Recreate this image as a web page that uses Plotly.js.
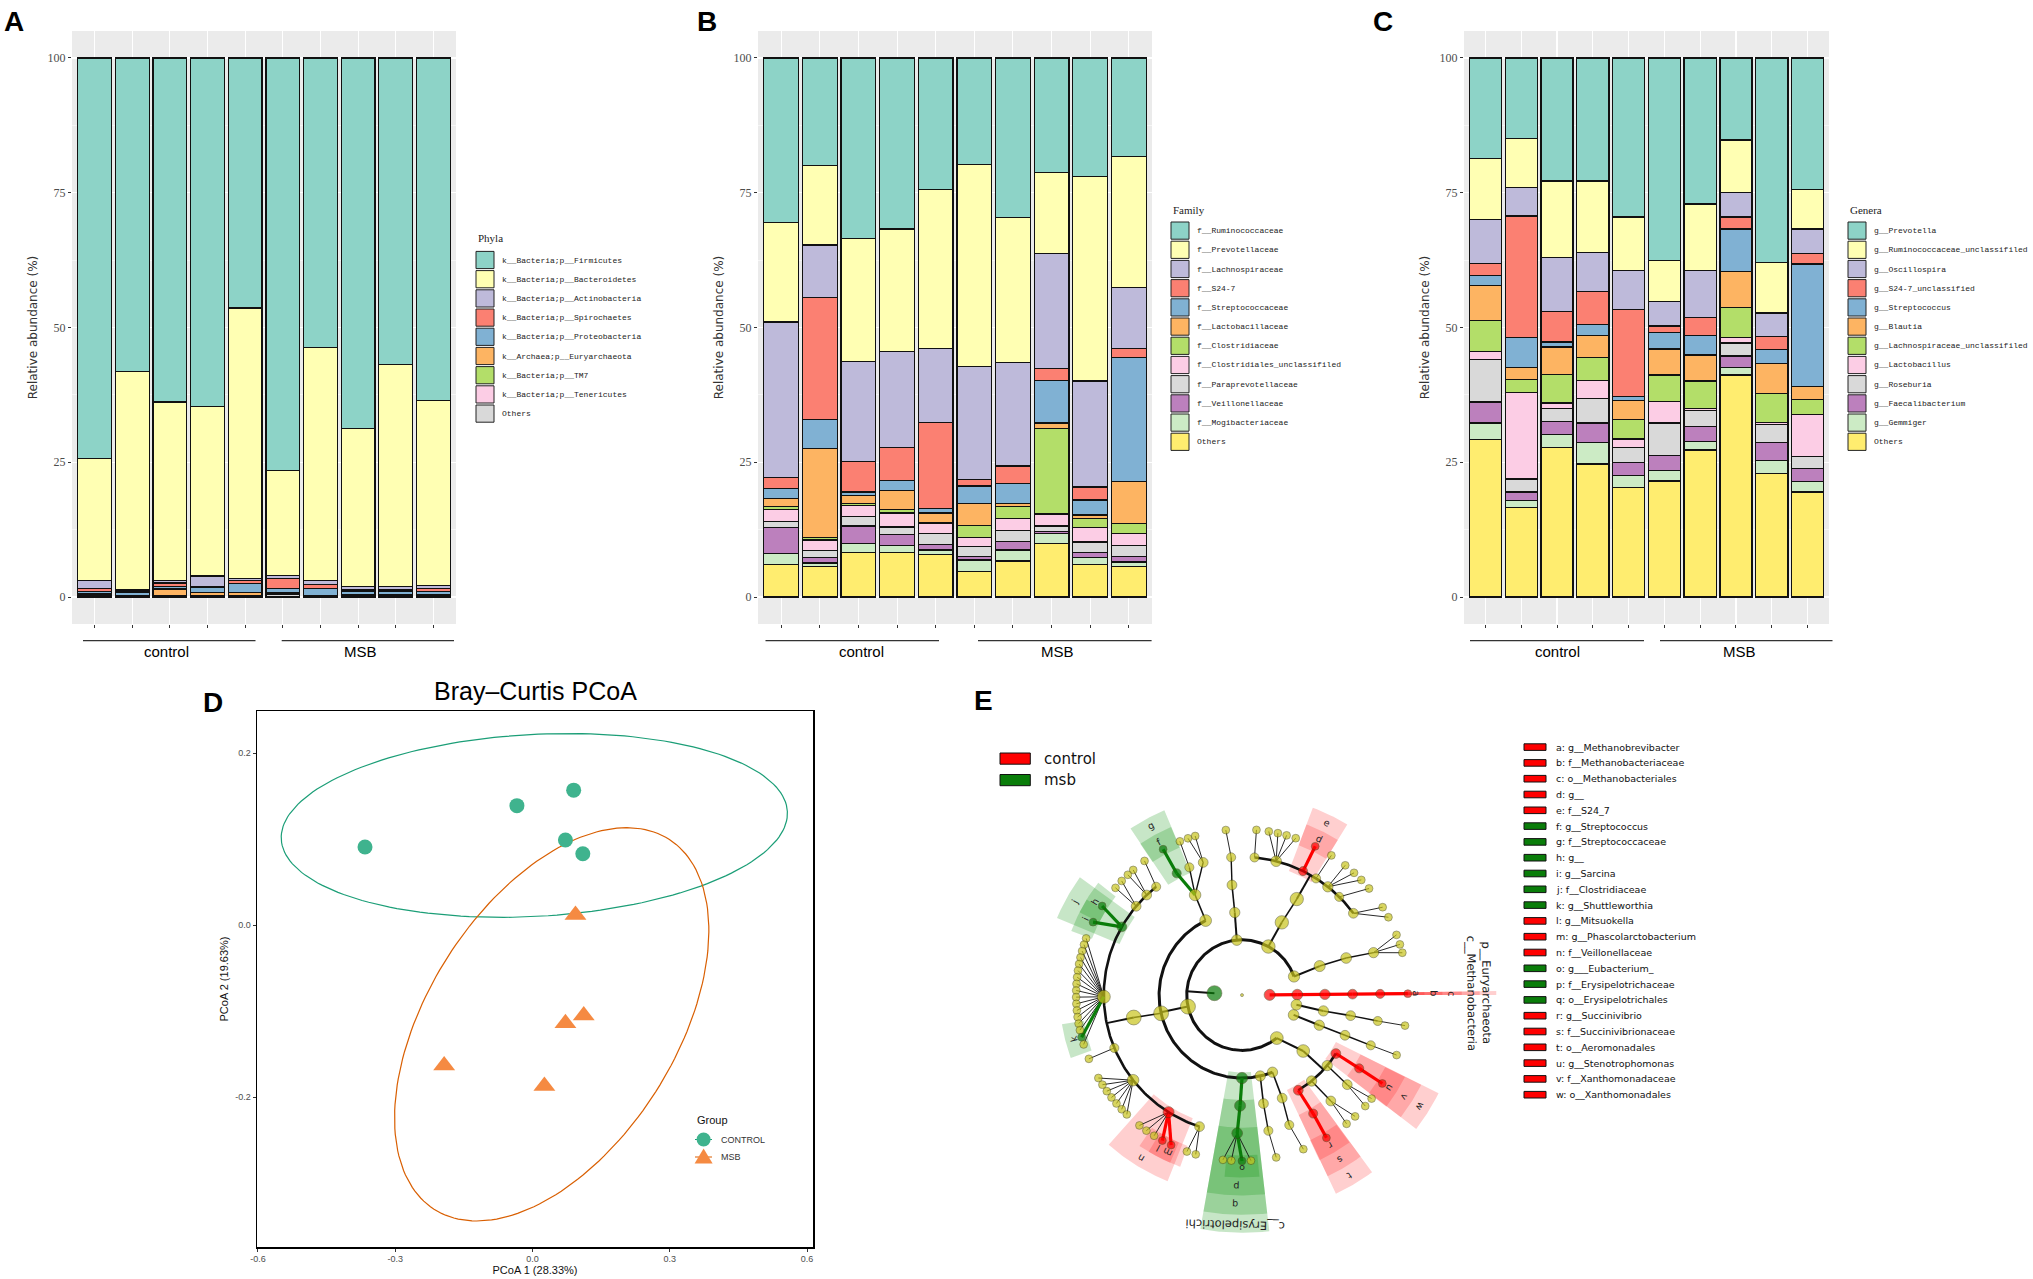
<!DOCTYPE html>
<html><head><meta charset="utf-8">
<script src="https://cdn.plot.ly/plotly-3.0.1.min.js"></script>
<style>html,body{margin:0;padding:0;background:#fff;}</style>
</head><body>
<div id="chart" style="width:2033px;height:1279px;"></div>
<script>
// ===================== DATA =====================
const samples = ['control-1','control-2','control-3','control-4','control-5','MSB-1','MSB-2','MSB-3','MSB-4','MSB-5'];
const groupNames = ['control','MSB'];
const pctTicks = [0,25,50,75,100];

// Panel A: phyla (legend order, top of stack first)
const phylaNames = ['k__Bacteria;p__Firmicutes','k__Bacteria;p__Bacteroidetes','k__Bacteria;p__Actinobacteria','k__Bacteria;p__Spirochaetes','k__Bacteria;p__Proteobacteria','k__Archaea;p__Euryarchaeota','k__Bacteria;p__TM7','k__Bacteria;p__Tenericutes','Others'];
const phyFirmicutes     = [74.3,58.2,63.8,64.6,46.4,76.5,53.7,68.7,56.9,63.6];
const phyBacteroidetes  = [22.6,40.5,33.1,31.5,50.1,19.5,43.2,29.4,41.2,34.3];
const phyActinobacteria = [1.5,0.3,0.5,1.9,0.4,0.5,0.8,0.5,0.5,0.5];
const phySpirochaetes   = [0.6,0.1,0.6,0.2,0.6,1.9,0.7,0.3,0.3,0.6];
const phyProteobacteria = [0.45,0.55,0.5,1.0,1.7,0.7,1.3,0.6,0.65,0.6];
const phyEuryarchaeota  = [0.1,0.05,1.25,0.5,0.45,0.2,0.05,0.05,0.05,0.05];
const phyTM7            = [0.05,0,0.05,0.05,0.05,0.1,0.05,0.05,0.05,0.05];
const phyTenericutes    = [0.1,0.1,0.05,0.05,0.1,0.1,0.05,0.1,0.05,0.1];
const phyOthers         = [0.3,0.2,0.15,0.2,0.2,0.5,0.15,0.3,0.3,0.2];

// Panel B: families
const familyNames = ['f__Ruminococcaceae','f__Prevotellaceae','f__Lachnospiraceae','f__S24-7','f__Streptococcaceae','f__Lactobacillaceae','f__Clostridiaceae','f__Clostridiales_unclassifiled','f__Paraprevotellaceae','f__Veillonellaceae','f__Mogibacteriaceae','Others'];
const famRuminococcaceae    = [30.5,19.9,33.5,31.7,24.4,19.8,29.6,21.2,22.0,18.3];
const famPrevotellaceae     = [18.5,14.8,22.8,22.7,29.5,37.4,26.9,15.1,37.9,24.3];
const famLachnospiraceae    = [28.8,9.7,18.6,17.9,13.7,21.0,19.2,21.3,19.7,11.3];
const famS247               = [2.0,22.6,5.6,6.1,16.0,1.2,3.3,2.2,2.4,1.7];
const famStreptococcaceae   = [1.9,5.5,0.7,1.8,0.8,3.2,3.6,7.9,2.8,23.0];
const famLactobacillaceae   = [1.5,16.4,1.4,3.6,1.8,4.1,0.6,1.0,0.6,7.8];
const famClostridiaceae     = [0.6,0.5,0.4,0.6,0.2,2.2,2.2,15.9,1.7,1.8];
const famClostridialesUnc   = [2.2,2.0,2.0,2.6,1.8,1.7,2.2,2.2,2.7,2.3];
const famParaprevotellaceae = [1.1,1.2,1.8,1.4,2.1,1.9,2.1,1.0,2.0,2.0];
const famVeillonellaceae    = [4.8,1.1,3.3,2.1,1.0,0.6,1.6,0.4,0.8,1.0];
const famMogibacteriaceae   = [2.0,0.6,1.7,1.3,0.8,2.1,2.0,1.9,1.3,0.8];
const famOthers             = [6.1,5.7,8.2,8.2,7.9,4.8,6.7,9.9,6.1,5.7];

// Panel C: genera
const genusNames = ['g__Prevotella','g__Ruminococcaceae_unclassifiled','g__Oscillospira','g__S24-7_unclassified','g__Streptococcus','g__Blautia','g__Lachnospiraceae_unclassifiled','g__Lactobacillus','g__Roseburia','g__Faecalibacterium','g__Gemmiger','Others'];
const genPrevotella         = [18.6,14.9,22.8,22.8,29.5,37.6,27.1,15.2,38.0,24.4];
const genRuminococcaceaeUnc = [11.4,9.1,14.2,13.3,9.9,7.6,12.3,9.8,9.3,7.3];
const genOscillospira       = [8.1,5.3,10.0,7.2,7.2,4.5,8.7,4.5,4.4,4.6];
const genS247Unc            = [2.3,22.6,5.7,6.2,16.2,1.2,3.4,2.2,2.4,1.9];
const genStreptococcus      = [1.8,5.5,0.9,2.0,0.8,3.1,3.6,7.9,2.6,22.8];
const genBlautia            = [6.5,2.2,5.1,4.1,3.4,4.8,4.8,6.7,5.5,2.4];
const genLachnospiraceaeUnc = [5.7,2.4,5.3,4.2,3.7,4.9,5.1,5.6,5.4,2.7];
const genLactobacillus      = [1.5,16.1,1.0,3.4,1.6,4.0,0.4,1.0,0.4,7.8];
const genRoseburia          = [7.9,2.4,2.4,4.5,2.8,6.0,3.0,2.4,3.3,2.3];
const genFaecalibacterium   = [3.9,1.6,2.5,3.6,2.4,2.8,2.7,2.1,3.4,2.4];
const genGemmiger           = [3.1,1.3,2.4,4.0,2.2,2.0,1.6,1.4,2.4,1.9];
const genOthers             = [29.2,16.6,27.7,24.7,20.3,21.5,27.3,41.2,22.9,19.5];

// Panel D: PCoA
const pcoaGroups = ['CONTROL','MSB'];
const ctrlPC1 = [-0.366,-0.034,0.090,0.072,0.110];
const ctrlPC2 = [0.091,0.139,0.157,0.099,0.083];
const msbPC1  = [0.094,0.112,0.072,-0.193,0.026];
const msbPC2  = [0.012,-0.105,-0.114,-0.163,-0.187];
// confidence ellipses: centre + two conjugate semi-axis vectors (PCoA units)
const ctrlEllipse = [0.004,0.116, 0.553,0.0162, 0.0109,-0.1056];
const msbEllipse  = [0.042,-0.1152, 0.1639,0.2286, 0.3018,0.0];

// Panel E: LEfSe cladogram  [parent, level, angle(deg)]
const cladeNodes = [
 [-1,0,0],[0,1,176],[0,1,0.5],[2,2,0.5],[3,3,0.5],[4,4,0.5],[5,5,0.5],[6,6,0.5],
 [1,2,19.7],[1,2,61.5],[1,2,95.4],[1,2,192],[1,2,309],[0,2,339],[0,2,350],
 [8,3,20.5],[15,4,19.6],[16,5,17.9],[17,6,21.3],[17,6,17.8],[17,6,14.8],
 [10,3,95],[21,4,95.2],[22,5,94.5],[23,6,95.6],
 [13,3,338.7],[25,4,338.7],[26,5,338.7],[27,6,338.8],
 [14,3,349],[29,4,349.3],[30,5,349.2],[31,6,349.4],
 [9,3,61.3],[33,4,60.3],[34,5,63.8],[34,5,75.7],[34,5,84.8],[34,5,57.6],[34,5,51.6],[34,5,45.3],[34,5,36.3],
 [35,6,63.8],[36,6,80.7],[36,6,77.5],[36,6,74.4],[36,6,71.1],[37,6,85],[38,6,57.4],[39,6,51.5],[39,6,47.5],[39,6,44],[40,6,40],[41,6,32],[41,6,28],
 [11,3,116],[11,3,192.7],[11,3,270],[11,3,282.7],[11,3,291.6],
 [55,4,115.1],[60,5,118.2],[60,5,112.4],[60,5,106.3],[61,6,118.4],[62,6,112],[63,6,106.4],[63,6,109],
 [56,4,191.7],
 [68,5,150.4],[68,5,140],[68,5,133.6],[68,5,128.4],[68,5,180.7],[68,5,202.5],[68,5,218],[68,5,237.9],[68,5,252.1],
 [69,6,147.5],[69,6,153.9],[70,6,139.7],[70,6,136.5],[71,6,131],[71,6,133.5],[72,6,126],
 [73,6,160],[73,6,162.3],[73,6,164.6],[73,6,166.9],[73,6,169.2],[73,6,171.5],[73,6,173.8],[73,6,176.1],[73,6,178.4],[73,6,180.7],[73,6,183],[73,6,185.3],[73,6,187.6],[73,6,189.9],[73,6,192.2],[73,6,194.7],[73,6,197.3],
 [74,6,202.6],
 [75,6,210],[75,6,212.7],[75,6,215.4],[75,6,218.1],[75,6,220.8],[75,6,223.5],[75,6,226],
 [76,6,231.8],[76,6,234.8],[76,6,238],[76,6,241.3],[76,6,244.7],
 [77,6,250.6],[77,6,253.8],
 [57,4,269],[117,5,268],[118,6,263.4],[118,6,266.3],[118,6,270],[118,6,273.1],
 [58,4,281.2],[123,5,281],[124,6,281.9],
 [59,4,291.3],[126,5,290],[127,6,291.7],
 [12,3,317.6],[129,4,328.1],[129,4,320.4],[129,4,309],[129,4,300.6],
 [130,5,328],[131,5,319.6],[133,5,301],[132,5,310],
 [134,6,327.8],[135,6,321.4],[135,6,318],[136,6,300.6],[137,6,309.1],[137,6,313]
];
const cladeGroups = ['control','msb'];
const markerLetters = ['a','b','c','d','e','f','g','h','i','j','k','l','m','n','o','p','q','r','s','t','u','v','w'];
const markerNames = ['g__Methanobrevibacter','f__Methanobacteriaceae','o__Methanobacteriales','g__','f__S24_7','g__Streptococcus','f__Streptococcaceae','g__','g__Sarcina','f__Clostridiaceae','g__Shuttleworthia','g__Mitsuokella','g__Phascolarctobacterium','f__Veillonellaceae','g___Eubacterium_','f__Erysipelotrichaceae','o__Erysipelotrichales','g__Succinivibrio','f__Succinivibrionaceae','o__Aeromonadales','g__Stenotrophomonas','f__Xanthomonadaceae','o__Xanthomonadales'];
const markerGroup = ['control','control','control','control','control','msb','msb','msb','msb','msb','msb','control','control','control','msb','msb','msb','control','control','control','control','control','control'];
const markerNode = [7,6,5,42,35,64,61,78,79,69,100,113,114,76,121,118,117,141,136,133,138,134,130];
const namedLabels = ['p__Euryarchaeota','c__Methanobacteria','c__Erysipelotrichi'];
const namedNode = [3,4,57];
const namedGroup = ['control','control','msb'];
const kingdomNode = [1,2];
const kingdomGroup = ['msb','control'];

// ===================== BUILD =====================
const W = 2033, H = 1279;
const px = x => x / W, py = y => 1 - y / H;
const set3 = ['#8DD3C7','#FFFFB3','#BEBADA','#FB8072','#80B1D3','#FDB462','#B3DE69','#FCCDE5','#D9D9D9','#BC80BD','#CCEBC5','#FFED6F'];
const xs = samples.map((s, i) => i + 1);
const traces = [];
const shapes = [];
const annotations = [];
const layout = {
  width: W, height: H, margin: {l:0, r:0, t:0, b:0},
  paper_bgcolor: '#ffffff', plot_bgcolor: 'rgba(0,0,0,0)',
  showlegend: false, barmode: 'stack', font: {family: 'Liberation Sans', color: '#000'},
  shapes: shapes, annotations: annotations
};
function txt(x, y, text, size, opts) {
  annotations.push(Object.assign({xref:'paper', yref:'paper', x: px(x), y: py(y), text: text, showarrow: false,
    xanchor: 'center', yanchor: 'middle', font: {family: 'Liberation Sans', size: size, color: '#000'}}, opts || {}));
}

const barPanels = [
  {names: phylaNames, table: [phyFirmicutes,phyBacteroidetes,phyActinobacteria,phySpirochaetes,phyProteobacteria,phyEuryarchaeota,phyTM7,phyTenericutes,phyOthers],
   title: 'Phyla', ax: '', x0: 72, x1: 456, legX: 476, legY: 260, titleY: 238, letter: 'A', letterX: 14,
   ctrl: [83,255.5,166], msb: [281.7,454,360]},
  {names: familyNames, table: [famRuminococcaceae,famPrevotellaceae,famLachnospiraceae,famS247,famStreptococcaceae,famLactobacillaceae,famClostridiaceae,famClostridialesUnc,famParaprevotellaceae,famVeillonellaceae,famMogibacteriaceae,famOthers],
   title: 'Family', ax: '2', x0: 758, x1: 1152, legX: 1171, legY: 230.6, titleY: 210, letter: 'B', letterX: 707,
   ctrl: [765.5,939,861], msb: [978,1151.6,1057]},
  {names: genusNames, table: [genPrevotella,genRuminococcaceaeUnc,genOscillospira,genS247Unc,genStreptococcus,genBlautia,genLachnospiraceaeUnc,genLactobacillus,genRoseburia,genFaecalibacterium,genGemmiger,genOthers],
   title: 'Genera', ax: '3', x0: 1464, x1: 1829, legX: 1848, legY: 230.6, titleY: 210, letter: 'C', letterX: 1383,
   ctrl: [1470,1644,1557], msb: [1660,1832.5,1739.5]}
];

barPanels.forEach(p => {
  const xr = 'x' + p.ax, yr = 'y' + p.ax;
  shapes.push({type:'rect', xref:'paper', yref:'paper', x0:px(p.x0), x1:px(p.x1), y0:py(624), y1:py(31), fillcolor:'#EBEBEB', line:{width:0}, layer:'below'});
  layout['xaxis' + p.ax] = {domain:[px(p.x0), px(p.x1)], anchor: yr, range:[0.4,10.6], tickvals: xs, showticklabels:false,
    ticks:'outside', ticklen:3, tickwidth:1, tickcolor:'#333', showgrid:true, gridcolor:'#ffffff', gridwidth:1.1,
    zeroline:false, showline:false, fixedrange:true};
  layout['yaxis' + p.ax] = {domain:[py(624), py(31)], anchor: xr, range:[-5,105], tickvals: pctTicks, ticktext: pctTicks.map(String),
    ticks:'outside', ticklen:3, tickwidth:1, tickcolor:'#333', tickfont:{family:'Liberation Serif', size:12, color:'#4D4D4D'},
    showgrid:true, gridcolor:'#ffffff', gridwidth:1.1, zeroline:false, showline:false, fixedrange:true,
    minor:{tickvals:[12.5,37.5,62.5,87.5], ticks:'', showgrid:true, gridcolor:'#ffffff', gridwidth:0.55},
    title:{text:'Relative abundance (%)', font:{family:'DejaVu Sans', size:12, color:'#333'}, standoff:7}};
  for (let k = p.names.length - 1; k >= 0; k--) {
    traces.push({type:'bar', x: xs, y: p.table[k], xaxis: xr, yaxis: yr, name: p.names[k], width: 0.9,
      marker:{color: set3[k], line:{color:'#111', width:1.3}}, customdata: samples,
      hovertemplate: '%{customdata}<br>' + p.names[k] + ': %{y}%<extra></extra>'});
  }
  // legend
  txt(p.legX, p.titleY, p.title, 11, {xanchor:'left', font:{family:'Liberation Serif', size:11, color:'#222'}});
  p.names.forEach((nm, k) => {
    const cy = p.legY + k * 19.2;
    shapes.push({type:'rect', xref:'paper', yref:'paper', x0:px(p.legX), x1:px(p.legX + 18), y0:py(cy + 8.6), y1:py(cy - 8.6),
      fillcolor: set3[k], line:{color:'#222', width:1}});
    txt(p.legX + 24, cy, nm, 8, {xanchor:'left', font:{family:'Liberation Mono', size:8, color:'#222'}});
  });
  // group brackets
  [p.ctrl, p.msb].forEach((g, gi) => {
    shapes.push({type:'line', xref:'paper', yref:'paper', x0:px(g[0]), x1:px(g[1]), y0:py(640.6), y1:py(640.6), line:{color:'#333', width:1.2}});
    txt(g[2], 651.5, groupNames[gi], 15);
  });
  txt(p.letterX, 22, '<b>' + p.letter + '</b>', 28);
});

// ---------- Panel D ----------
function ellipsePts(e) {
  const ex = [], ey = [];
  for (let i = 0; i <= 180; i++) {
    const t = i / 180 * 2 * Math.PI;
    ex.push(e[0] + e[2] * Math.cos(t) + e[4] * Math.sin(t));
    ey.push(e[1] + e[3] * Math.cos(t) + e[5] * Math.sin(t));
  }
  return [ex, ey];
}
const ce = ellipsePts(ctrlEllipse), me = ellipsePts(msbEllipse);
traces.push({type:'scatter', mode:'lines', x: ce[0], y: ce[1], xaxis:'x4', yaxis:'y4', line:{color:'#1B9E77', width:1.2}, hoverinfo:'skip', name:'CONTROL ellipse'});
traces.push({type:'scatter', mode:'lines', x: me[0], y: me[1], xaxis:'x4', yaxis:'y4', line:{color:'#D95F02', width:1.2}, hoverinfo:'skip', name:'MSB ellipse'});
traces.push({type:'scatter', mode:'markers', x: ctrlPC1, y: ctrlPC2, xaxis:'x4', yaxis:'y4', name: pcoaGroups[0],
  marker:{symbol:'circle', size:15, color:'#3FB38E'}});
traces.push({type:'scatter', mode:'markers', x: msbPC1, y: msbPC2, xaxis:'x4', yaxis:'y4', name: pcoaGroups[1],
  marker:{symbol:'triangle-up', size:19, color:'#F58A42'}});
layout.xaxis4 = {domain:[px(257), px(813)], anchor:'y4', range:[-0.602,0.613], tickvals:[-0.6,-0.3,0,0.3,0.6], ticktext:['-0.6','-0.3','0.0','0.3','0.6'],
  ticks:'outside', ticklen:3, tickcolor:'#333', tickfont:{size:9, color:'#4D4D4D'}, showgrid:false, zeroline:false,
  showline:true, mirror:true, linecolor:'#000', linewidth:1.5, fixedrange:true,
  title:{text:'PCoA 1 (28.33%)', font:{size:11, color:'#111'}, standoff:2}};
layout.yaxis4 = {domain:[py(1247), py(711)], anchor:'x4', range:[-0.374,0.249], tickvals:[-0.2,0,0.2], ticktext:['-0.2','0.0','0.2'],
  ticks:'outside', ticklen:3, tickcolor:'#333', tickfont:{size:9, color:'#4D4D4D'}, showgrid:false, zeroline:false,
  showline:true, mirror:true, linecolor:'#000', linewidth:1.5, fixedrange:true,
  title:{text:'PCoA 2 (19.63%)', font:{size:11, color:'#111'}, standoff:4}};
txt(535, 691.5, 'Bray\u2013Curtis PCoA', 25);
txt(213, 702, '<b>D</b>', 28);
// D legend
txt(694.6, 1120, 'Group', 11, {xanchor:'left', font:{size:11, color:'#111'}});
shapes.push({type:'line', xref:'paper', yref:'paper', x0:px(695), x1:px(712), y0:py(1139.5), y1:py(1139.5), line:{color:'#1B9E77', width:1}});
shapes.push({type:'circle', xref:'paper', yref:'paper', x0:px(696.6), x1:px(710.6), y0:py(1146.5), y1:py(1132.5), fillcolor:'#3FB38E', line:{width:0}});
shapes.push({type:'line', xref:'paper', yref:'paper', x0:px(695), x1:px(712), y0:py(1157), y1:py(1157), line:{color:'#D95F02', width:1}});
shapes.push({type:'path', xref:'paper', yref:'paper', fillcolor:'#F58A42', line:{width:0},
  path:'M' + px(703.6) + ',' + py(1148.5) + ' L' + px(712.6) + ',' + py(1163.5) + ' L' + px(694.6) + ',' + py(1163.5) + ' Z'});
txt(719.2, 1139.5, pcoaGroups[0], 9, {xanchor:'left', font:{size:9, color:'#333'}});
txt(719.2, 1157, pcoaGroups[1], 9, {xanchor:'left', font:{size:9, color:'#333'}});

// ---------- Panel E ----------
const U = 27.64;             // px per taxonomic level
const CX = 1242, CY = 995.1; // centre in page pixels
const exDom = [894.5, 1504.4], eyDom = [703.5, 1279];
layout.xaxis5 = {domain:[px(exDom[0]), px(exDom[1])], anchor:'y5', range:[exDom[0]-CX, exDom[1]-CX], visible:false, fixedrange:true};
layout.yaxis5 = {domain:[py(eyDom[1]), py(eyDom[0])], anchor:'x5', range:[CY-eyDom[1], CY-eyDom[0]], visible:false, fixedrange:true};
const groupColor = {control:'#FF0000', msb:'#0A7D0A', n:'#C8C41C'};
const wedgeColor = {control:'rgba(255,0,0,0.19)', msb:'rgba(0,140,0,0.22)'};
const nodeGroup = cladeNodes.map(() => 'n');
markerNode.forEach((n, i) => nodeGroup[n] = markerGroup[i]);
namedNode.forEach((n, i) => nodeGroup[n] = namedGroup[i]);
kingdomNode.forEach((n, i) => nodeGroup[n] = kingdomGroup[i]);
const kids = cladeNodes.map(() => []);
cladeNodes.forEach((n, i) => { if (n[0] >= 0) kids[n[0]].push(i); });
function desc(i) { return kids[i].reduce((s, c) => s + 1 + desc(c), 0); }
function subAngles(i) { let a = [cladeNodes[i][2]]; kids[i].forEach(c => { a = a.concat(subAngles(c)); }); return a; }
function inArchaea(i) { while (i > 0) { if (i === 2) return true; i = cladeNodes[i][0]; } return false; }
function pol(L, a) { const t = a * Math.PI / 180; return [L * U * Math.cos(t), L * U * Math.sin(t)]; }

// wedges for biomarkers
const wedgeOuter = {2:9.2, 3:8.6, 4:7.95, 5:7.25, 6:6.6};
const labelRing = {2:8.85, 3:8.3, 4:7.6, 5:6.95, 6:6.3};
const biomarkers = [];
markerNode.forEach((n, i) => biomarkers.push({node:n, label:markerLetters[i], group:markerGroup[i], named:false}));
namedNode.forEach((n, i) => biomarkers.push({node:n, label:namedLabels[i], group:namedGroup[i], named:true}));
biomarkers.sort((a, b) => cladeNodes[a.node][1] - cladeNodes[b.node][1]);
biomarkers.forEach(b => {
  const L = cladeNodes[b.node][1];
  const angs = subAngles(b.node);
  const lo = Math.min(...angs), hi = Math.max(...angs), mid = (lo + hi) / 2;
  const half = inArchaea(b.node) ? 0.45 : Math.max((hi - lo) / 2 + 3.5, 5.5);
  const a0 = mid - half, a1 = mid + half, r0 = L - 0.2, r1 = wedgeOuter[L];
  const wx = [], wy = [];
  for (let k = 0; k <= 40; k++) { const p = pol(r1, a0 + (a1 - a0) * k / 40); wx.push(p[0]); wy.push(p[1]); }
  for (let k = 40; k >= 0; k--) { const p = pol(r0, a0 + (a1 - a0) * k / 40); wx.push(p[0]); wy.push(p[1]); }
  traces.push({type:'scatter', mode:'lines', x: wx, y: wy, xaxis:'x5', yaxis:'y5', fill:'toself', fillcolor: wedgeColor[b.group],
    line:{width:0}, hoverinfo:'skip', name: b.label});
  const lp = pol(labelRing[L], mid);
  let ang = 90 - mid; while (ang > 180) ang -= 360; while (ang <= -180) ang += 360;
  annotations.push({xref:'x5', yref:'y5', x: lp[0], y: lp[1], text: b.label, showarrow:false, textangle: ang,
    xanchor:'center', yanchor:'middle', font:{family:'DejaVu Sans', size: b.named ? 11.5 : 9.5, color:'#222'}});
});

// edges
const segs = {};
function addSeg(color, width, pts) {
  const key = color + '|' + width;
  if (!segs[key]) segs[key] = {x:[], y:[], color:color, width:width};
  pts.forEach(p => { segs[key].x.push(p[0]); segs[key].y.push(p[1]); });
  segs[key].x.push(null); segs[key].y.push(null);
}
function arcPts(L, a0, a1) { const pts = []; const n = Math.max(2, Math.ceil(a1 - a0)); for (let k = 0; k <= n; k++) pts.push(pol(L, a0 + (a1 - a0) * k / n)); return pts; }
const lineW = {1:2.2, 2:2.0, 3:2.0, 4:1.6, 5:1.4, 6:0.9};
kids.forEach((ch, p) => {
  if (p === 0 || ch.length === 0) return;
  const pl = cladeNodes[p][1], pa = cladeNodes[p][2];
  const cl = cladeNodes[ch[0]][1];
  const angs = ch.map(c => cladeNodes[c][2]);
  const lo = Math.min(...angs), hi = Math.max(...angs);
  if (cl <= 5 && hi - lo > 20) {
    addSeg('#111', 2.0, [pol(pl, pa), pol(cl, pa)]);
    addSeg('#111', cl <= 3 ? 3.0 : 2.6, arcPts(cl, lo, hi));
  } else {
    ch.forEach(c => {
      const g = nodeGroup[c];
      const col = g === 'n' ? '#111' : groupColor[g];
      addSeg(col, g === 'n' ? lineW[cl] : 3.2, [pol(pl, pa), pol(cl, cladeNodes[c][2])]);
    });
  }
});
Object.values(segs).forEach(s => traces.push({type:'scatter', mode:'lines', x: s.x, y: s.y, xaxis:'x5', yaxis:'y5',
  line:{color: s.color, width: s.width}, hoverinfo:'skip', connectgaps:false, name:'branch'}));

// nodes
const nx = [], ny = [], nsz = [], ncol = [], ntxt = [];
cladeNodes.forEach((n, i) => {
  const p = pol(n[1], n[2]);
  nx.push(p[0]); ny.push(p[1]);
  nsz.push(i === 0 ? 3 : Math.min(15, 7.8 + 1.25 * Math.log2(1 + desc(i))));
  ncol.push(groupColor[nodeGroup[i]]);
  ntxt.push('clade ' + i);
});
traces.push({type:'scatter', mode:'markers', x: nx, y: ny, xaxis:'x5', yaxis:'y5', text: ntxt, hoverinfo:'text',
  marker:{size: nsz, color: ncol, line:{color:'#3a3a10', width:0.6}}, cliponaxis:false, name:'clades'});

// E legends
txt(983, 700, '<b>E</b>', 28);
cladeGroups.forEach((g, i) => {
  const cy = 758.6 + i * 21.5;
  shapes.push({type:'rect', xref:'paper', yref:'paper', x0:px(1000), x1:px(1030.3), y0:py(cy + 5.6), y1:py(cy - 5.6), fillcolor: groupColor[g], line:{color:'#111', width:1}});
  txt(1041.7, cy, g, 15, {xanchor:'left', font:{family:'DejaVu Sans', size:15, color:'#111'}});
});
markerLetters.forEach((l, i) => {
  const cy = 747.1 + i * 15.8;
  shapes.push({type:'rect', xref:'paper', yref:'paper', x0:px(1524), x1:px(1546), y0:py(cy + 3.3), y1:py(cy - 3.3), fillcolor: groupColor[markerGroup[i]], line:{color:'#111', width:1}});
  txt(1554, cy, l + ': ' + markerNames[i], 9.5, {xanchor:'left', font:{family:'DejaVu Sans', size:9.5, color:'#111'}});
});

Plotly.newPlot('chart', traces, layout, {displayModeBar:false, staticPlot:true});
</script>
</body></html>
